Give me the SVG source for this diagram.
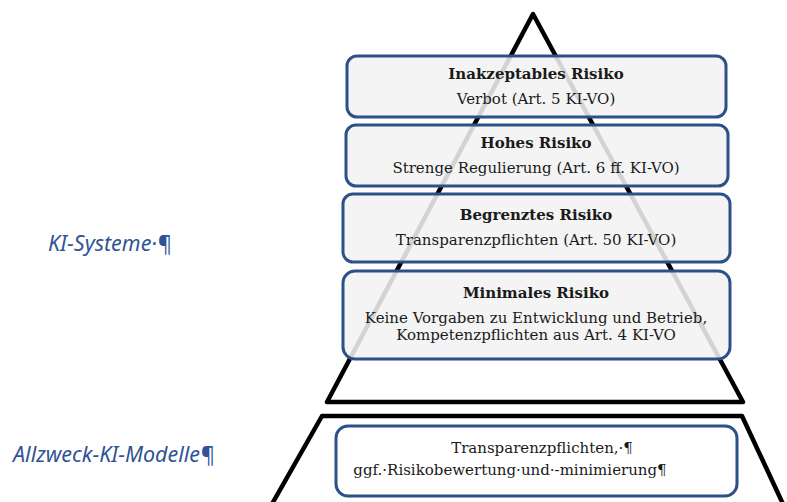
<svg xmlns="http://www.w3.org/2000/svg" width="787" height="502" viewBox="0 0 787 502">
<style>
.shape{fill:none;stroke:#000;stroke-width:4.5;stroke-linejoin:round;stroke-linecap:round}
.box{fill:#f2f2f2;fill-opacity:0.87;stroke:#2c5189;stroke-width:3}
.box2{fill:#fff;stroke:#2c5189;stroke-width:3}
.t{font-family:"DejaVu Serif","Liberation Serif",serif;font-size:15px;fill:#1a1a1a;text-anchor:middle}
.b{font-weight:bold}
.side{font-family:"Noto Sans","DejaVu Sans",sans-serif;font-style:italic;font-size:21.5px;fill:#2f5496}
</style>
<rect width="787" height="502" fill="#fff"/>
<g id="connectors">
<path class="shape" d="M533,14 L327,402 L743,402 Z"/>
<path class="shape" d="M272,504 L322,416 L742,416 L783,504"/>
</g>
<g id="n1">
<rect class="box" x="347" y="56" width="379" height="61" rx="10"/>
<text class="t b" x="536" y="79">Inakzeptables Risiko</text>
<text class="t" x="536" y="104">Verbot (Art. 5 KI-VO)</text>
</g>
<g id="n2">
<rect class="box" x="346" y="125" width="382" height="61" rx="10"/>
<text class="t b" x="536" y="148">Hohes Risiko</text>
<text class="t" x="536" y="173">Strenge Regulierung (Art. 6 ff. KI-VO)</text>
</g>
<g id="n3">
<rect class="box" x="343" y="194" width="387" height="68" rx="10"/>
<text class="t b" x="536" y="220">Begrenztes Risiko</text>
<text class="t" x="536" y="245">Transparenzpflichten (Art. 50 KI-VO)</text>
</g>
<g id="n4">
<rect class="box" x="343" y="271" width="387" height="88" rx="12"/>
<text class="t b" x="536" y="298">Minimales Risiko</text>
<text class="t" x="536" y="323">Keine Vorgaben zu Entwicklung und Betrieb,</text>
<text class="t" x="536" y="340">Kompetenzpflichten aus Art. 4 KI-VO</text>
</g>
<g id="n5">
<rect class="box2" x="336" y="426" width="401" height="70" rx="12"/>
<text class="t" x="542" y="453">Transparenzpflichten,·¶</text>
<text class="t" x="510" y="475">ggf.·Risikobewertung·und·-minimierung¶</text>
</g>
<g id="labels">
<text class="side" x="48" y="251">KI-Systeme·¶</text>
<text class="side" x="13" y="462">Allzweck-KI-Modelle¶</text>
</g>
</svg>
